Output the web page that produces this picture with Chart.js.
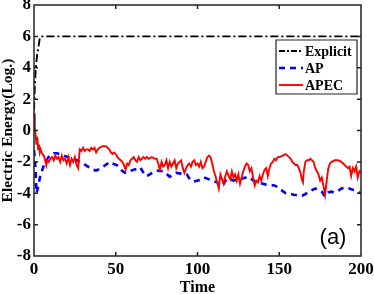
<!DOCTYPE html>
<html>
<head>
<meta charset="utf-8">
<script src="https://cdn.jsdelivr.net/npm/chart.js@4/dist/chart.umd.min.js"></script>
<style>
html,body{margin:0;padding:0;background:#fff;}
canvas{display:block;}
</style>
</head>
<body>
<canvas id="c" width="374" height="294"></canvas>
<script>
// ---- data ----
const xTicks = [0, 50, 100, 150, 200];
const yTicks = [-8, -6, -4, -2, 0, 2, 4, 6, 8];

const tExplicit = [0, 0.5, 1, 1.5, 2, 3, 3.5, 4, 200];
const vExplicit = [1.3, 2.8, 3.8, 4.4, 4.9, 5.5, 5.85, 6.0, 6.0];

const tAP = [0,0.6,1.6,2.5,3.7,5.7,7.5,9.8,12,14,17,20,23,26,28,30,33,36,38,40,43,46.5,48,50.6,53,55.7,58,61,63,65,68,70,73,76,79,81,83,85,87,90,93.5,95.5,97.6,101.6,104,108,110,112,114,116,118,120,122,124,126,128,131,133,135,138,140,142,144,147,149,152,154,157,159,162,164,166,168,170,172,174,176,178,180,182,184,186,188,190,192,194,196,198,200];
const vAP = [-1.25,-1.9,-4.0,-3.6,-2.95,-2.3,-1.9,-1.56,-1.45,-1.45,-1.55,-1.67,-1.8,-1.88,-2.0,-2.1,-2.3,-2.5,-2.55,-2.45,-2.25,-2.0,-2.1,-2.2,-2.5,-2.7,-2.6,-2.5,-2.45,-2.35,-2.9,-2.85,-2.65,-2.55,-2.6,-2.75,-2.95,-2.8,-2.7,-2.75,-2.8,-3.15,-3.25,-3.15,-3.0,-3.15,-3.25,-3.3,-3.55,-3.4,-3.05,-3.1,-3.2,-3.15,-3.1,-3.05,-2.95,-3.1,-3.25,-3.35,-3.4,-3.45,-3.47,-3.5,-3.6,-3.85,-4.0,-4.05,-4.1,-4.15,-4.15,-4.05,-3.9,-3.8,-3.7,-3.75,-3.9,-4.2,-3.95,-3.9,-3.95,-3.85,-3.7,-3.65,-3.65,-3.75,-3.8,-3.9,-4.0];

const tAPEC = [0,0.5,1,1.5,2,2.5,3,3.5,4,5,6,7,7.5,8,9,10,11,12,13,14,15,16,17,18,19,20,21,22,23,24,25,26,27,28,29,30,31,32,33,34,35,36,37,38,39,40,42,44,45,46,47,48,49,50,51,52,53,54,55,56,57,58,59,60,61,62,63,64,65,66,67,68,69,70,72,74,75,76,77,78,79,80,81,82,83,84,85,86,87,88,89,90,91,92,93,94,95,96,97,98,99,100,101,102,103,104,105,106,107,108,109,110,111,112,113,114,115,116,117,118,119,120,121,122,123,124,125,126,127,128,129,130,131,132,133,134,135,136,137,138,139,140,141,142,143,144,145,146,147,148,149,150,152,154,155,156,157,158,159,160,161,162,163,164,164.5,165,166,167,168,169,170,171,172,173,174,175,176,177,178,179,180,181,182,184,186,188,190,191,192,193,194,195,196,197,198,199,200];
const vAPEC = [1.1,0.2,-0.3,-0.9,-0.4,-1.2,-0.9,-1.4,-1.2,-1.5,-1.6,-2.0,-2.2,-1.9,-2.0,-1.8,-1.7,-1.9,-1.6,-1.8,-1.7,-2.0,-1.6,-1.9,-1.8,-2.1,-1.7,-2.2,-1.8,-2.0,-1.7,-2.2,-2.4,-1.2,-1.3,-1.1,-1.3,-1.2,-1.2,-1.3,-1.1,-1.2,-1.1,-1.4,-1.2,-1.1,-1.0,-1.0,-1.1,-1.2,-1.4,-1.5,-1.4,-1.5,-1.7,-1.8,-1.9,-2.0,-2.2,-2.5,-2.1,-2.2,-1.9,-1.8,-1.7,-1.9,-2.0,-1.7,-1.9,-1.8,-1.7,-1.8,-1.7,-1.8,-1.7,-1.8,-1.8,-2.1,-2.5,-2.0,-2.3,-2.2,-1.9,-2.4,-2.0,-2.3,-2.1,-1.9,-2.4,-2.1,-2.0,-1.9,-2.4,-2.7,-2.4,-2.2,-2.1,-2.3,-2.0,-1.9,-2.2,-2.1,-2.3,-2.0,-2.4,-2.3,-2.0,-1.7,-1.6,-1.7,-2.1,-2.6,-2.9,-3.3,-3.7,-2.8,-3.1,-3.4,-2.9,-2.6,-2.9,-3.1,-2.6,-3.0,-2.8,-3.2,-2.8,-3.4,-3.0,-2.6,-2.3,-2.1,-2.2,-2.6,-2.4,-3.0,-3.5,-3.2,-3.3,-2.9,-3.2,-2.8,-2.5,-2.4,-2.9,-2.4,-2.1,-2.0,-1.8,-1.9,-1.7,-1.7,-1.6,-1.5,-1.6,-1.7,-1.8,-2.0,-2.1,-2.2,-2.2,-2.4,-2.7,-3.2,-3.3,-2.6,-2.0,-1.9,-1.9,-1.8,-1.9,-2.0,-2.4,-2.6,-2.8,-3.2,-3.0,-3.5,-4.1,-3.2,-2.4,-2.1,-2.0,-1.9,-1.9,-2.0,-2.2,-2.3,-2.4,-2.3,-2.9,-2.4,-2.6,-2.3,-3.0,-2.6,-2.7];

const seriesNames = ['Explicit', 'AP', 'APEC'];

function pts(t, v) { return t.map((x, i) => ({x: x, y: v[i]})); }

const AXIS = '#222222';
const SERIF = '"Liberation Serif", "Times New Roman", serif';

const boxPlugin = {
  id: 'box',
  afterDatasetsDraw(chart) {
    const ctx = chart.ctx;
    const a = chart.chartArea;
    const xs = chart.scales.x, ys = chart.scales.y;
    ctx.save();
    ctx.setLineDash([]);
    ctx.globalAlpha = 1;
    ctx.strokeStyle = AXIS;
    ctx.lineWidth = 1.5;
    ctx.beginPath();
    for (const v of xTicks) {
      const px = xs.getPixelForValue(v);
      ctx.moveTo(px, a.bottom); ctx.lineTo(px, a.bottom - 4);
      ctx.moveTo(px, a.top); ctx.lineTo(px, a.top + 4);
    }
    for (const v of yTicks) {
      const py = ys.getPixelForValue(v);
      ctx.moveTo(a.left, py); ctx.lineTo(a.left + 4, py);
      ctx.moveTo(a.right, py); ctx.lineTo(a.right - 4, py);
    }
    ctx.moveTo(a.left, a.top); ctx.lineTo(a.right, a.top);
    ctx.lineTo(a.right, a.bottom); ctx.lineTo(a.left, a.bottom);
    ctx.closePath();
    ctx.stroke();

    // legend
    const lx = 276, ly = 40, lw = 81, lh = 54;
    ctx.fillStyle = '#ffffff';
    ctx.fillRect(lx, ly, lw, lh);
    ctx.lineWidth = 1.2;
    ctx.beginPath();
    ctx.rect(lx, ly, lw, lh);
    ctx.stroke();
    const ds = chart.data.datasets;
    const rows = [51, 68, 85];
    ds.forEach((d, i) => {
      ctx.save();
      ctx.strokeStyle = d.borderColor;
      ctx.lineWidth = d.borderWidth;
      ctx.setLineDash(d.legendDash || []);
      ctx.beginPath();
      ctx.moveTo(279, rows[i]); ctx.lineTo(303, rows[i]);
      ctx.stroke();
      ctx.restore();
      ctx.fillStyle = '#000';
      ctx.font = 'bold 14px ' + SERIF;
      ctx.textBaseline = 'middle';
      ctx.textAlign = 'left';
      ctx.fillText(d.label, 305, rows[i] + 1);
    });

    // panel label
    ctx.fillStyle = '#000';
    ctx.font = '22px "Liberation Sans", Arial, sans-serif';
    ctx.textAlign = 'center';
    ctx.textBaseline = 'middle';
    ctx.fillText('(a)', 333, 238);
    ctx.restore();
  }
};

new Chart(document.getElementById('c'), {
  type: 'scatter',
  data: {
    datasets: [
      {label: seriesNames[0], data: pts(tExplicit, vExplicit), showLine: true, borderColor: '#000', borderWidth: 1.9, borderDash: [8, 3, 2, 3], legendDash: [6, 2, 2, 2], pointRadius: 0, order: 2},
      {label: seriesNames[1], data: pts(tAP, vAP), showLine: true, borderColor: '#0000ff', borderWidth: 2.6, borderDash: [6, 5], legendDash: [6, 5], pointRadius: 0, order: 1},
      {label: seriesNames[2], data: pts(tAPEC, vAPEC), showLine: true, borderColor: '#ff0000', borderWidth: 1.9, pointRadius: 0, order: 0}
    ]
  },
  options: {
    responsive: false,
    animation: false,
    layout: {padding: {top: 5, right: 13, left: 0, bottom: 0}},
    plugins: {legend: {display: false}, tooltip: {enabled: false}},
    scales: {
      x: {
        type: 'linear', min: 0, max: 200,
        afterFit(s) { s.height = 38; s.paddingLeft = 0; s.paddingRight = 0; },
        afterBuildTicks(s) { s.ticks = xTicks.map(v => ({value: v})); },
        grid: {display: false, drawTicks: false}, border: {display: false},
        ticks: {color: '#000', padding: 3, font: {family: SERIF, size: 17, weight: 'bold'}, maxRotation: 0, callback: v => String(v)},
        title: {display: true, text: 'Time', color: '#000', padding: {top: 0, bottom: 0}, font: {family: SERIF, size: 16, weight: 'bold', lineHeight: 0.8}}
      },
      y: {
        type: 'linear', min: -8, max: 8,
        afterFit(s) { s.width = 34; s.paddingTop = 0; s.paddingBottom = 0; },
        afterBuildTicks(s) { s.ticks = yTicks.map(v => ({value: v})); },
        grid: {display: false, drawTicks: false}, border: {display: false},
        ticks: {color: '#000', padding: 3, font: {family: SERIF, size: 17, weight: 'bold'}, callback: v => String(v)},
        title: {display: true, text: 'Electric Energy(Log.)', color: '#000', padding: {top: 0, bottom: 0}, font: {family: SERIF, size: 15.5, weight: 'bold', lineHeight: 1}}
      }
    }
  },
  plugins: [boxPlugin]
});
</script>
</body>
</html>
